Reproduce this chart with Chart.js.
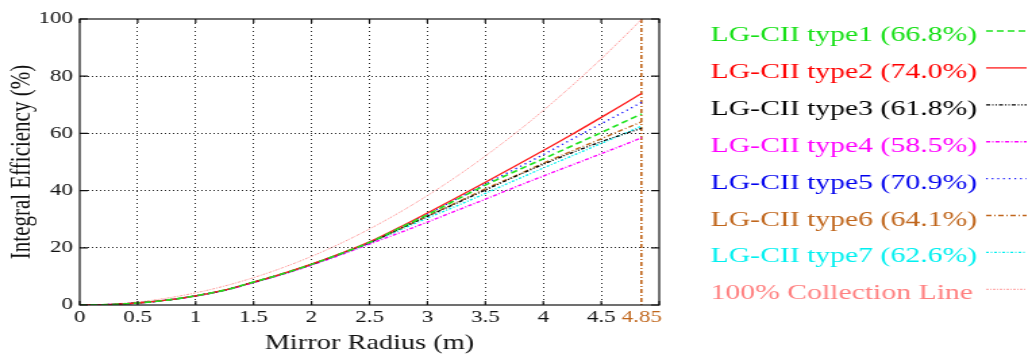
<!DOCTYPE html>
<html>
<head>
<meta charset="utf-8">
<script src="https://cdn.jsdelivr.net/npm/chart.js@4"></script>
<style>
  html, body { margin: 0; padding: 0; background: #fff; overflow: hidden; }
  /* the whole figure is drawn narrow and stretched sideways */
  #wrap { width: 764px; height: 358px; transform: scaleX(1.3508); transform-origin: 0 0; }
</style>
</head>
<body>
<div id="wrap"><canvas id="eff"></canvas></div>
<script>
const radius = [0, 0.25, 0.5, 0.75, 1, 1.25, 1.5, 1.75, 2, 2.25, 2.5, 2.75, 3, 3.25, 3.5, 3.75, 4, 4.25, 4.5, 4.75, 4.85];

const type1 = [0, 0.15, 0.7, 1.7, 3.2, 5.2, 8.0, 10.9, 14.2, 17.9, 21.9, 26.7, 31.6, 36.8, 41.9, 46.6, 51.1, 55.7, 60.3, 65.0, 66.8];
const type2 = [0, 0.15, 0.7, 1.7, 3.2, 5.2, 8.0, 11.0, 14.3, 18.0, 22.1, 27.0, 32.2, 37.5, 42.9, 48.4, 54.0, 59.7, 65.6, 71.6, 74.0];
const type3 = [0, 0.15, 0.7, 1.7, 3.2, 5.2, 8.0, 10.9, 14.2, 17.9, 21.8, 26.4, 31.0, 35.6, 40.2, 44.8, 49.2, 53.3, 57.1, 60.5, 61.8];
const type4 = [0, 0.15, 0.7, 1.7, 3.1, 5.1, 7.8, 10.7, 13.9, 17.5, 21.3, 25.1, 29.0, 33.0, 37.0, 41.1, 45.1, 49.0, 52.9, 56.9, 58.5];
const type5 = [0, 0.15, 0.7, 1.7, 3.2, 5.2, 8.0, 10.9, 14.2, 17.9, 21.9, 26.8, 31.8, 37.0, 42.3, 47.4, 52.6, 58.0, 63.4, 68.7, 70.9];
const type6 = [0, 0.15, 0.7, 1.7, 3.2, 5.2, 8.0, 10.9, 14.2, 17.9, 21.8, 26.4, 31.1, 35.8, 40.6, 45.0, 49.6, 53.9, 58.1, 62.4, 64.1];
const type7 = [0, 0.15, 0.7, 1.7, 3.2, 5.1, 7.9, 10.8, 14.1, 17.7, 21.6, 26.0, 30.4, 34.6, 39.0, 43.5, 47.9, 52.2, 56.5, 60.8, 62.6];
const collection = [0, 0.27, 1.06, 2.39, 4.25, 6.64, 9.57, 13.02, 17.0, 21.52, 26.57, 32.15, 38.26, 44.9, 52.08, 59.78, 68.02, 76.79, 86.09, 95.92, 100];

const xTicks = [0, 0.5, 1, 1.5, 2, 2.5, 3, 3.5, 4, 4.5, 4.85, 5];
const cutRadius = 4.85;

const SERIF = '"Liberation Serif", "Times New Roman", serif';
const BROWN = '#c0661c';

function pts(vals) {
  return radius.map((r, i) => ({ x: r, y: vals[i] }));
}
function typeLabel(n, vals) {
  return 'LG-CII type' + n + ' (' + vals[vals.length - 1].toFixed(1) + '%)';
}

const datasets = [
  { label: typeLabel(1, type1), data: pts(type1), borderColor: '#1ee41e', textColor: '#14e014', borderWidth: 1.6, borderDash: [5, 3] },
  { label: typeLabel(2, type2), data: pts(type2), borderColor: '#ff1a1a', textColor: '#ff0000', borderWidth: 1.3, borderDash: [] },
  { label: typeLabel(3, type3), data: pts(type3), borderColor: '#000000', textColor: '#000000', borderWidth: 1.3, borderDash: [3, 1.5, 1, 1.5, 1, 1.5] },
  { label: typeLabel(4, type4), data: pts(type4), borderColor: '#ff00ff', textColor: '#ff00ff', borderWidth: 1.4, borderDash: [3, 1.5, 1, 1.5] },
  { label: typeLabel(5, type5), data: pts(type5), borderColor: '#1010ff', textColor: '#0000ee', borderWidth: 1.4, borderDash: [1.2, 3] },
  { label: typeLabel(6, type6), data: pts(type6), borderColor: BROWN, textColor: BROWN, borderWidth: 1.4, borderDash: [4, 2, 1, 2] },
  { label: typeLabel(7, type7), data: pts(type7), borderColor: '#00f0f0', textColor: '#00f0f0', borderWidth: 1.4, borderDash: [2, 1.5, 1, 1.5] },
  { label: '100% Collection Line', data: pts(collection), borderColor: '#ff9a9a', textColor: '#ff7f7f', borderWidth: 1, borderDash: [2, 1, 1, 1] }
];
datasets.forEach(d => {
  d.pointRadius = 0;
  d.fill = false;
  d.cubicInterpolationMode = 'monotone';
});

// legend on the right: coloured text followed by a line sample
const sideLegend = {
  id: 'sideLegend',
  afterDraw(chart) {
    const ctx = chart.ctx;
    ctx.save();
    ctx.font = '22px ' + SERIF;
    ctx.textBaseline = 'alphabetic';
    ctx.textAlign = 'left';
    chart.data.datasets.forEach((ds, i) => {
      const y = 41 + i * 36.9;
      ctx.fillStyle = ds.textColor;
      ctx.fillText(ds.label, 526, y);
      ctx.strokeStyle = ds.borderColor;
      ctx.lineWidth = ds.borderWidth;
      ctx.setLineDash(ds.borderDash);
      ctx.beginPath();
      ctx.moveTo(730, y - 10);
      ctx.lineTo(760, y - 10);
      ctx.stroke();
    });
    ctx.restore();
  }
};

// closed box with inward tick marks
const frame = {
  id: 'frame',
  afterDatasetsDraw(chart) {
    const { ctx, chartArea: a, scales } = chart;
    ctx.save();
    ctx.strokeStyle = '#111';
    ctx.lineWidth = 1.2;
    ctx.setLineDash([]);
    ctx.strokeRect(a.left, a.top, a.right - a.left, a.bottom - a.top);
    ctx.beginPath();
    scales.y.ticks.forEach(t => {
      const py = scales.y.getPixelForValue(t.value);
      ctx.moveTo(a.left, py); ctx.lineTo(a.left + 6, py);
      ctx.moveTo(a.right, py); ctx.lineTo(a.right - 6, py);
    });
    scales.x.ticks.forEach(t => {
      if (t.value === cutRadius) return;
      const px = scales.x.getPixelForValue(t.value);
      ctx.moveTo(px, a.bottom); ctx.lineTo(px, a.bottom - 4);
      ctx.moveTo(px, a.top); ctx.lineTo(px, a.top + 4);
    });
    ctx.stroke();
    ctx.restore();
  }
};

new Chart(document.getElementById('eff'), {
  type: 'line',
  data: { datasets: datasets },
  plugins: [frame, sideLegend],
  options: {
    responsive: true,
    maintainAspectRatio: false,
    animation: false,
    layout: { padding: { left: 0, right: 276, top: 19, bottom: 0 } },
    plugins: {
      legend: { display: false },
      tooltip: { enabled: false }
    },
    scales: {
      x: {
        type: 'linear',
        min: 0,
        max: 5,
        afterBuildTicks: axis => { axis.ticks = xTicks.map(v => ({ value: v })); },
        afterFit: axis => { axis.height = 53; },
        ticks: {
          autoSkip: false,
          maxRotation: 0,
          padding: 2,
          font: { family: SERIF, size: 17 },
          color: c => c.tick && c.tick.value === cutRadius ? BROWN : '#111',
          callback: v => v === 5 ? '' : String(v)
        },
        grid: {
          drawTicks: false,
          lineWidth: c => c.tick && c.tick.value === cutRadius ? 1.6 : 1,
          color: c => {
            if (!c.tick) return '#222';
            if (c.tick.value === cutRadius) return BROWN;
            if (c.tick.value === 0 || c.tick.value === 5) return 'rgba(0,0,0,0)';
            return '#222';
          }
        },
        border: {
          display: false,
          dash: c => c.tick && c.tick.value === cutRadius ? [4, 2, 1, 2] : [1, 3]
        },
        title: {
          display: true,
          text: 'Mirror Radius (m)',
          color: '#111',
          font: { family: SERIF, size: 21 },
          padding: { top: 0, bottom: 2 }
        }
      },
      y: {
        min: 0,
        max: 100,
        afterFit: axis => { axis.width = 59; },
        ticks: {
          stepSize: 20,
          padding: 5,
          font: { family: SERIF, size: 17 },
          color: '#111'
        },
        grid: {
          drawTicks: false,
          color: c => c.tick && (c.tick.value === 0 || c.tick.value === 100) ? 'rgba(0,0,0,0)' : '#222'
        },
        border: { display: false, dash: [1, 2] },
        title: {
          display: true,
          text: 'Integral Efficiency (%)',
          color: '#111',
          font: { family: SERIF, size: 21 },
          padding: { top: 4, bottom: 0 }
        }
      }
    }
  }
});
</script>
</body>
</html>
